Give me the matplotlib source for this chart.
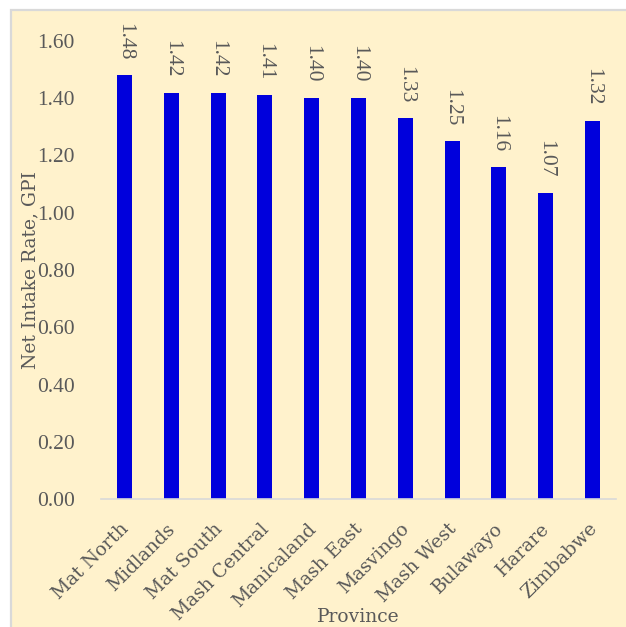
import matplotlib
matplotlib.use("Agg")
import matplotlib.pyplot as plt
from matplotlib.patches import Rectangle
from matplotlib.transforms import ScaledTranslation

provinces = ["Mat North", "Midlands", "Mat South", "Mash Central", "Manicaland",
             "Mash East", "Masvingo", "Mash West", "Bulawayo", "Harare", "Zimbabwe"]
gpi = [1.48, 1.42, 1.42, 1.41, 1.40, 1.40, 1.33, 1.25, 1.16, 1.07, 1.32]
yticks = [0.00, 0.20, 0.40, 0.60, 0.80, 1.00, 1.20, 1.40, 1.60]

W, H = 626, 627
plt.rcParams["font.family"] = ["Liberation Serif", "DejaVu Serif"]
word_font = ["DejaVu Serif"]
text_color = "#595959"
bg = "#FFF2CC"
bar_color = "#0000DC"
fs = 15.5
fs_words = 13.5

fig = plt.figure(figsize=(W / 100, H / 100), dpi=100)
fig.patch.set_facecolor("white")

# chart frame
fig.add_artist(Rectangle((11 / W, -0.05), 1.1, (H - 10) / H + 0.05,
                         transform=fig.transFigure, facecolor=bg,
                         edgecolor="#D9D9D9", linewidth=1.6, zorder=0))

ax = fig.add_axes([101 / W, 128 / H, 515 / W, 458 / H])
ax.set_facecolor("none")
x = list(range(len(provinces)))
ax.bar(x, gpi, width=0.32, color=bar_color, zorder=2)
ax.set_xlim(-0.5, len(provinces) - 0.5)
ax.set_ylim(0, 1.6)
ax.set_yticks(yticks)
ax.set_yticklabels([f"{v:.2f}" for v in yticks], fontsize=fs, color=text_color)
ax.set_xticks(x)
ax.set_xticklabels(provinces, rotation=45, ha="right", rotation_mode="anchor",
                   fontsize=fs_words, color=text_color, family=word_font)
ax.tick_params(axis="both", length=0)
ax.tick_params(axis="y", pad=19)
ax.tick_params(axis="x", pad=15)
shift = ScaledTranslation(-5 / 100, 0, fig.dpi_scale_trans)
for lab in ax.get_xticklabels():
    lab.set_transform(lab.get_transform() + shift)
for s in ["top", "right", "left"]:
    ax.spines[s].set_visible(False)
ax.spines["bottom"].set_color("#D9D9D9")
ax.spines["bottom"].set_linewidth(1.2)

for xi, v in zip(x, gpi):
    ax.annotate(f"{v:.2f}", (xi, v), xytext=(0, 11), textcoords="offset points",
                rotation=-90, ha="center", va="bottom", fontsize=fs,
                color=text_color)

ax.set_ylabel("Net Intake Rate, GPI", fontsize=fs_words, color=text_color,
              family=word_font)
ax.set_xlabel("Province", fontsize=fs_words, color=text_color, family=word_font)
ax.xaxis.set_label_coords(0.5, -0.237)
ax.yaxis.set_label_coords(-0.12, 0.5)

fig.savefig("out.png", dpi=100, facecolor="white")
